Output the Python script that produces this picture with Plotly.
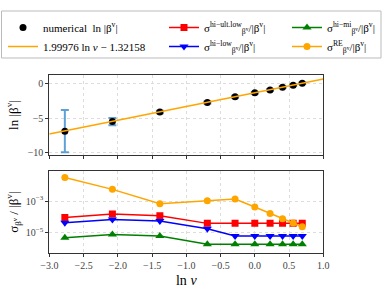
import plotly.graph_objects as go

# ---- data ----
ln_v = [-2.773, -2.079, -1.386, -0.693, -0.288, 0.0, 0.223, 0.405, 0.560, 0.693]
ln_beta = [-6.89, -5.50, -4.11, -2.73, -1.91, -1.34, -0.91, -0.53, -0.24, 0.05]
ln_beta_err = [3.06, 0.53, 0.18, 0.15, 0.15, 0.12, 0.12, 0.1, 0.1, 0.1]

fit_x = [-3.0, 1.0]
fit_y = [-7.32086, 0.67818]

sig_ult_low = [9.3e-5, 1.5e-4, 1.2e-4, 3.9e-5, 3.9e-5, 3.9e-5, 3.9e-5, 3.9e-5, 3.9e-5, 3.9e-5]
sig_low = [4.3e-5, 6.9e-5, 5.5e-5, 1.8e-5, 6.2e-6, 6.2e-6, 6.2e-6, 6.2e-6, 6.2e-6, 6.2e-6]
sig_mi = [4.8e-6, 7.8e-6, 6.2e-6, 1.9e-6, 1.9e-6, 1.9e-6, 1.9e-6, 1.9e-6, 1.9e-6, 1.9e-6]
sig_re = [3.1e-2, 5.5e-3, 6.8e-4, 1.05e-3, 1.35e-3, 4.2e-4, 1.66e-4, 7.6e-5, 4.1e-5, 2.4e-5]

x_ticks = [-3.0, -2.5, -2.0, -1.5, -1.0, -0.5, 0.0, 0.5, 1.0]
x_ticktext = ["−3.0", "−2.5", "−2.0", "−1.5", "−1.0", "−0.5", "0.0", "0.5", "1.0"]
top_yticks = [0, -5, -10]
top_yticktext = ["0", "−5", "−10"]
bot_yticks = [1e-3, 1e-5]
bot_yticktext = ["10<sup>−3</sup>", "10<sup>−5</sup>"]

FONT = "Liberation Serif, DejaVu Serif, serif"
W, H = 391, 289

fig = go.Figure()

# col 1 legend
fig.add_trace(go.Scatter(
    x=ln_v, y=ln_beta, mode="markers", xaxis="x", yaxis="y",
    marker=dict(color="black", size=7),
    error_y=dict(type="data", array=ln_beta_err, visible=True,
                 color="rgba(40,130,200,0.75)", thickness=2, width=4),
    name="numerical  ln |β<sup>v</sup>|", legend="legend"))
fig.add_trace(go.Scatter(
    x=fit_x, y=fit_y, mode="lines", xaxis="x", yaxis="y",
    line=dict(color="orange", width=1.5),
    name="1.99976 ln <i>v</i> − 1.32158", legend="legend"))

# col 2
fig.add_trace(go.Scatter(
    x=ln_v, y=sig_ult_low, mode="lines+markers", xaxis="x2", yaxis="y2",
    line=dict(color="red", width=1.5), marker=dict(symbol="square", size=7, color="red"),
    name="σ<sup>hi−ult.low</sup><sub>β<sup>v</sup></sub>/|β<sup>v</sup>|", legend="legend2"))
fig.add_trace(go.Scatter(
    x=ln_v, y=sig_low, mode="lines+markers", xaxis="x2", yaxis="y2",
    line=dict(color="blue", width=1.5), marker=dict(symbol="triangle-down", size=8, color="blue"),
    name="σ<sup>hi−low</sup><sub>β<sup>v</sup></sub>/|β<sup>v</sup>|", legend="legend2"))

# col 3
fig.add_trace(go.Scatter(
    x=ln_v, y=sig_mi, mode="lines+markers", xaxis="x2", yaxis="y2",
    line=dict(color="green", width=1.5), marker=dict(symbol="triangle-up", size=8, color="green"),
    name="σ<sup>hi−mi</sup><sub>β<sup>v</sup></sub>/|β<sup>v</sup>|", legend="legend3"))
fig.add_trace(go.Scatter(
    x=ln_v, y=sig_re, mode="lines+markers", xaxis="x2", yaxis="y2",
    line=dict(color="orange", width=1.5), marker=dict(symbol="circle", size=7, color="orange"),
    name="σ<sup>RE</sup><sub>β<sup>v</sup></sub>/|β<sup>v</sup>|", legend="legend3"))

xd = [49.3 / W, 323.3 / W]
ax_common = dict(showline=True, mirror=True, linecolor="#333", linewidth=1,
                 ticks="outside", ticklen=3, tickcolor="#333",
                 showgrid=True, gridcolor="#ddd", griddash="dot", gridwidth=1,
                 zeroline=False, automargin=False,
                 tickfont=dict(family=FONT, size=10, color="#444"))

legend_common = dict(orientation="v", bgcolor="rgba(0,0,0,0)", borderwidth=0,
                     font=dict(family=FONT, size=11, color="black"),
                     xanchor="left", yanchor="top", tracegroupgap=0,
                     itemwidth=30)

fig.update_layout(
    width=W, height=H, margin=dict(l=0, r=0, t=0, b=0, autoexpand=False),
    paper_bgcolor="white", plot_bgcolor="white",
    font=dict(family=FONT, color="black"),
    xaxis=dict(domain=xd, range=[-3, 1], anchor="y", tickvals=x_ticks,
               showticklabels=False, **ax_common),
    yaxis=dict(domain=[1 - 155 / H, 1 - 75 / H], range=[-10.35, 1.25], anchor="x",
               tickvals=top_yticks, ticktext=top_yticktext,
               title=dict(text="ln |β<sup>v</sup>|", font=dict(family=FONT, size=13), standoff=6),
               **ax_common),
    xaxis2=dict(domain=xd, range=[-3, 1], anchor="y2", matches="x",
                tickvals=x_ticks, ticktext=x_ticktext,
                title=dict(text="ln <i>v</i>", font=dict(family=FONT, size=14), standoff=4),
                **ax_common),
    yaxis2=dict(domain=[1 - 253.3 / H, 1 - 171 / H], type="log", range=[-6.3, -1.1],
                anchor="x2", tickvals=bot_yticks, ticktext=bot_yticktext,
                title=dict(text="σ<sub>β<sup>v</sup></sub> / |β<sup>v</sup>|",
                           font=dict(family=FONT, size=13), standoff=4),
                **ax_common),
    legend=dict(x=3 / W, y=1 - 13 / H, **legend_common),
    legend2=dict(x=164 / W, y=1 - 13 / H, **legend_common),
    legend3=dict(x=287 / W, y=1 - 13 / H, **legend_common),
    shapes=[dict(type="rect", xref="paper", yref="paper",
                 x0=1.5 / W, x1=381 / W, y0=1 - 58 / H, y1=1 - 11 / H,
                 line=dict(color="#bbb", width=1), fillcolor="rgba(0,0,0,0)",
                 layer="below")],
)

fig.write_html("out.html", config={"displayModeBar": False},
               post_script="document.body.style.margin='0';document.body.style.overflow='hidden';")
